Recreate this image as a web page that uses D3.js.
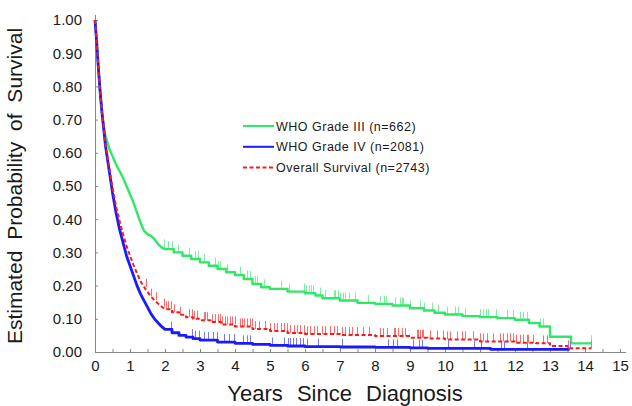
<!DOCTYPE html>
<html>
<head>
<meta charset="utf-8">
<script src="https://cdn.jsdelivr.net/npm/d3@7"></script>
<style>
  body { margin: 0; background: #fff; }
  svg { display: block; font-family: Arial, "Liberation Sans", sans-serif; }
  .axis text { font-size: 15px; fill: #1a1a1a; }
  .axis line, .axis path { stroke: #888; }
</style>
</head>
<body>
<svg width="632" height="406"></svg>
<script>
// Kaplan-Meier knots (time in years, survival probability)
var greenTimes = [0,0.05,0.1,0.15,0.2,0.25,0.3,0.4,0.5,0.6,0.7,0.8,0.9,1.0,1.1,1.2,1.3,1.4,1.5,1.6,1.7,1.8,1.9,2.0,2.25,2.5,2.75,3.0,3.25,3.5,3.75,4.0,4.25,4.5,4.75,5.0,5.5,6.0,6.3,6.5,7.0,7.5,8.0,8.5,9.0,9.4,9.7,10.0,10.5,11.0,11.5,12.0,12.4,12.7,13.0,13.6];
var greenSurv = [1,0.93,0.85,0.78,0.72,0.68,0.65,0.615,0.59,0.565,0.545,0.525,0.50,0.475,0.45,0.42,0.39,0.365,0.355,0.35,0.34,0.325,0.315,0.31,0.30,0.29,0.28,0.27,0.26,0.25,0.24,0.232,0.22,0.205,0.195,0.19,0.182,0.177,0.17,0.162,0.155,0.148,0.145,0.14,0.132,0.125,0.118,0.113,0.108,0.105,0.102,0.097,0.087,0.077,0.046,0.026];
var greenEnd = 14.18;
var greenCensor = [1.96,2.09,2.21,2.37,2.69,2.85,2.94,3.11,3.42,3.5,3.57,3.78,4.14,4.35,4.44,4.58,4.63,4.84,5.3,5.54,5.96,6.04,6.11,6.17,6.23,6.44,6.58,6.82,6.87,6.93,7.01,7.09,7.15,7.25,7.44,7.79,8.15,8.26,8.32,8.58,8.72,8.77,8.81,9.0,9.29,9.4,9.62,9.81,10.05,10.28,10.38,10.57,11.0,11.09,11.17,11.23,11.47,11.76,11.95,12.14,12.23,12.33,12.71,12.8,14.18];

var blueTimes = [0,0.05,0.1,0.15,0.2,0.25,0.3,0.4,0.5,0.6,0.7,0.8,0.9,1.0,1.1,1.2,1.3,1.4,1.5,1.6,1.7,1.8,1.9,2.0,2.2,2.4,2.6,2.8,3.0,3.5,4.0,4.5,5.0,5.5,6.0,7.0,8.0,9.0,9.5,11.3];
var blueSurv = [1,0.93,0.85,0.78,0.72,0.67,0.62,0.55,0.48,0.42,0.37,0.33,0.29,0.26,0.23,0.2,0.175,0.155,0.135,0.115,0.1,0.088,0.077,0.068,0.058,0.05,0.045,0.04,0.036,0.03,0.026,0.023,0.02,0.018,0.016,0.015,0.014,0.0125,0.011,0.008];
var blueEnd = 13.56;
var blueCensor = [2.17,2.78,2.85,2.98,3.11,3.23,3.38,3.48,3.68,3.83,3.96,4.24,4.34,4.42,5.05,5.4,5.5,5.57,5.65,5.75,5.85,5.93,6.05,6.36,7.06,8.37,8.52,8.62,9.08,9.26,9.33,10.09,10.84,11.04,11.6,11.7,12.35,13.56];

var redTimes = [0,0.05,0.1,0.15,0.2,0.25,0.3,0.4,0.5,0.6,0.7,0.8,0.9,1.0,1.1,1.2,1.3,1.4,1.5,1.6,1.7,1.8,1.9,2.0,2.2,2.4,2.6,2.8,3.0,3.3,3.6,4.0,4.5,5.0,5.5,6.0,7.0,8.0,9.0,9.5,10.0,11.0,12.0,12.6,13.0,13.5];
var redSurv = [1,0.93,0.85,0.78,0.72,0.675,0.625,0.56,0.495,0.44,0.395,0.355,0.32,0.29,0.262,0.237,0.213,0.196,0.181,0.167,0.156,0.146,0.137,0.129,0.12,0.112,0.105,0.1,0.096,0.09,0.083,0.077,0.069,0.063,0.057,0.054,0.051,0.048,0.043,0.041,0.038,0.032,0.028,0.026,0.018,0.011];
var redEnd = 14.18;
var redCensor = [1.45,1.6,1.75,1.96,2.02,2.09,2.17,2.26,2.43,2.69,2.76,2.83,2.91,3.1,3.13,3.19,3.35,3.42,3.5,3.57,3.64,3.7,3.78,3.85,3.92,3.99,4.14,4.21,4.27,4.35,4.42,4.49,4.58,4.68,4.87,5.01,5.11,5.21,5.3,5.39,5.49,5.58,5.68,5.77,5.87,5.96,6.06,6.15,6.25,6.34,6.49,6.58,6.72,6.82,6.91,7.06,7.15,7.25,7.34,7.48,7.67,7.82,8.15,8.24,8.34,8.53,8.58,8.67,8.77,8.86,9.19,9.24,9.29,9.34,9.38,9.57,9.76,9.95,10.05,10.14,10.33,10.48,10.57,10.81,11.0,11.09,11.19,11.38,11.57,11.66,11.76,11.85,11.95,12.04,12.14,12.23,12.33,12.37,12.52,12.8,12.9,13.51,14.18];

var legendLabels = ["WHO Grade III (n=662)", "WHO Grade IV (n=2081)", "Overall Survival (n=2743)"];
var xTicks = d3.range(0, 15.01, 0.5);
var yTicks = d3.range(0, 1.001, 0.1);

// before this time the events are so dense that the steps melt into a smooth line
var stepFrom = 2.0;

var svg = d3.select("svg"),
    margin = {top: 20, right: 12, bottom: 54, left: 95},
    width = 620 - margin.left,
    height = 352 - margin.top;

var x = d3.scaleLinear().domain([0, 15]).range([0, width]),
    y = d3.scaleLinear().domain([0, 1]).range([height, 0]);

var g = svg.append("g")
    .attr("transform", "translate(" + margin.left + "," + margin.top + ")");

// assen
var xAxis = g.append("g")
    .attr("class", "axis")
    .attr("transform", "translate(0," + height + ")")
    .call(d3.axisBottom(x).tickValues(xTicks).tickSize(-3).tickPadding(8)
      .tickFormat(function(d) { return d % 1 === 0 ? d : ""; }));
xAxis.select(".domain").remove();
xAxis.append("line").attr("x1", 0).attr("x2", width + 6).attr("y1", 0.5).attr("y2", 0.5);

var yAxis = g.append("g")
    .attr("class", "axis")
    .call(d3.axisLeft(y).tickValues(yTicks).tickSize(-3).tickPadding(13)
      .tickFormat(d3.format(".2f")));
yAxis.select(".domain").remove();
yAxis.append("line").attr("x1", 0.5).attr("x2", 0.5).attr("y1", -5).attr("y2", height);

// titels
svg.append("text")
    .attr("x", 345).attr("y", 401)
    .attr("text-anchor", "middle")
    .style("font-size", "22px").style("word-spacing", "8px").style("fill", "#1a1a1a")
    .text("Years Since Diagnosis");

svg.append("text")
    .attr("transform", "translate(22,186) rotate(-90)")
    .attr("text-anchor", "middle")
    .style("font-size", "21px").style("word-spacing", "5px").style("fill", "#1a1a1a")
    .text("Estimated Probability of Survival");

// curves
var series = [
  {times: greenTimes, surv: greenSurv, end: greenEnd, censor: greenCensor, color: "#2ee866", tick: "#7eeea0", w: 2.4, dash: null},
  {times: blueTimes, surv: blueSurv, end: blueEnd, censor: blueCensor, color: "#1a1aff", tick: "#7676ff", w: 2.8, dash: null},
  {times: redTimes, surv: redSurv, end: redEnd, censor: redCensor, color: "#ff1a1a", tick: "#ff6a6a", w: 2, dash: "4,2.5"}
];

var line = d3.line()
    .x(function(d) { return x(d[0]); })
    .y(function(d) { return y(d[1]); });

var bisect = d3.bisector(function(d) { return d; }).right;

series.forEach(function(s) {
  // linear while dense, KM steps afterwards
  var pts = [];
  s.times.forEach(function(t, i) {
    if (i > 0 && t > stepFrom) pts.push([t, s.surv[i - 1]]);
    pts.push([t, s.surv[i]]);
  });
  pts.push([s.end, s.surv[s.surv.length - 1]]);

  // censor marks
  g.selectAll(null)
    .data(s.censor)
    .enter().append("line")
      .attr("x1", function(t) { return Math.round(x(t)) + 0.5; })
      .attr("x2", function(t) { return Math.round(x(t)) + 0.5; })
      .attr("y1", function(t) { return y(s.surv[bisect(s.times, t) - 1]); })
      .attr("y2", function(t) { return y(s.surv[bisect(s.times, t) - 1]) - 8; })
      .attr("stroke", s.tick)
      .attr("stroke-width", 1);

  g.append("path")
    .datum(pts)
    .attr("fill", "none")
    .attr("stroke", s.color)
    .attr("stroke-width", s.w)
    .attr("stroke-linejoin", "round")
    .attr("stroke-dasharray", s.dash)
    .attr("d", line);
});

// legenda
var legend = svg.append("g").attr("transform", "translate(243,126)");
series.forEach(function(s, i) {
  var row = legend.append("g").attr("transform", "translate(0," + (i * 20.8) + ")");
  row.append("line")
    .attr("x1", 0).attr("x2", 31)
    .attr("stroke", s.color)
    .attr("stroke-width", 2)
    .attr("stroke-dasharray", s.dash);
  row.append("text")
    .attr("x", 33).attr("y", 4.5)
    .style("font-size", "12.5px").style("letter-spacing", "0.5px").style("fill", "#1a1a1a")
    .text(legendLabels[i]);
});
</script>
</body>
</html>
